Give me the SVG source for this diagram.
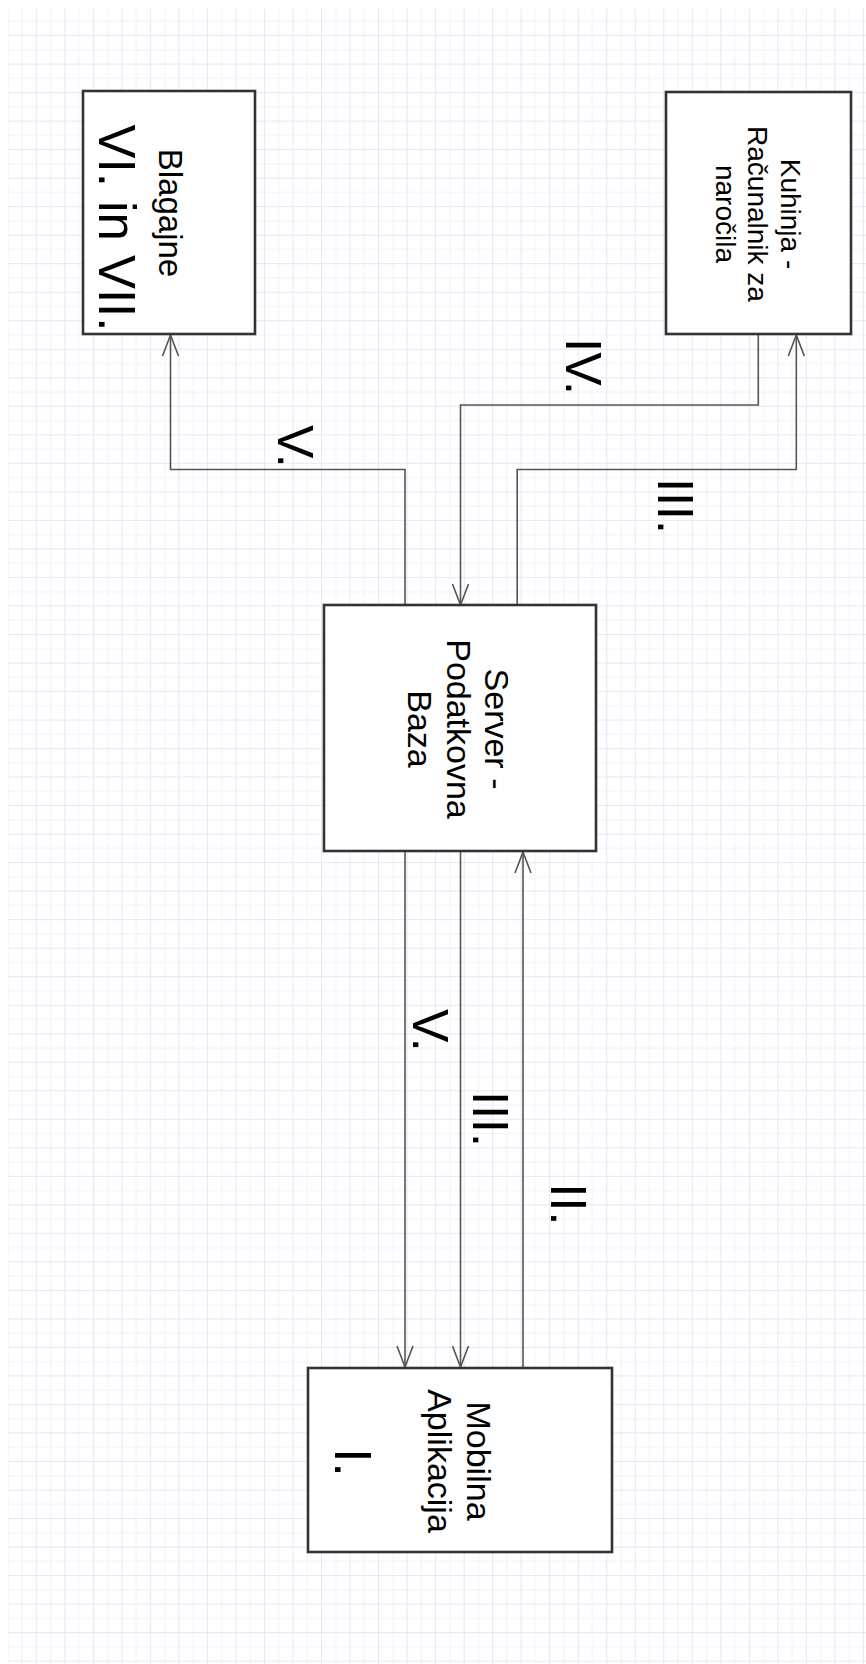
<svg xmlns="http://www.w3.org/2000/svg" width="866" height="1664" viewBox="0 0 866 1664">
<style>
.box{fill:#ffffff;stroke:#333333;stroke-width:2.6}
.con{fill:none;stroke:#555555;stroke-width:1.6}
.t{font-family:"Liberation Sans",Arial,sans-serif;fill:#000000}
.m{text-anchor:middle}
.lbl{font-size:50px}
</style>
<defs>
<pattern id="grid" patternUnits="userSpaceOnUse" x="7.3" y="6.5" width="28.52" height="28.52">
<rect x="0" y="0" width="28.52" height="28.52" fill="#ffffff"/>
<rect x="14.26" y="0" width="1" height="28.52" fill="#f1f1fd"/>
<rect x="0" y="14.26" width="28.52" height="1" fill="#f1f1fd"/>
<rect x="0" y="0" width="1" height="28.52" fill="#e6e6fa"/>
<rect x="0" y="0" width="28.52" height="1" fill="#e6e6fa"/>
</pattern>
<marker id="arr" markerUnits="userSpaceOnUse" markerWidth="30" markerHeight="30" viewBox="-25 -12 30 24" refX="0" refY="0" orient="auto">
<path d="M-21,-8 L0,0 L-21,8" fill="none" stroke="#555555" stroke-width="1.6"/>
</marker>
</defs>
<rect x="0" y="0" width="866" height="1664" fill="#ffffff"/>
<rect x="8" y="9" width="858" height="1655" fill="url(#grid)"/>

<g id="connectors">
<polyline class="con" points="405,605 405,469.5 170.5,469.5 170.5,335" marker-end="url(#arr)"/>
<polyline class="con" points="758.3,334 758.3,405 460.5,405 460.5,605" marker-end="url(#arr)"/>
<polyline class="con" points="517.2,605 517.2,469.5 796.3,469.5 796.3,335" marker-end="url(#arr)"/>
<line class="con" x1="405" y1="851" x2="405" y2="1367" marker-end="url(#arr)"/>
<line class="con" x1="460.5" y1="851" x2="460.5" y2="1367" marker-end="url(#arr)"/>
<line class="con" x1="523" y1="1368" x2="523" y2="852" marker-end="url(#arr)"/>
<text class="t lbl" transform="translate(278,425) rotate(90)">V.</text>
<text class="t lbl" transform="translate(566.3,338.3) rotate(90)">IV.</text>
<text class="t lbl" transform="translate(658,478.3) rotate(90)">III.</text>
<text class="t lbl" transform="translate(413,1009) rotate(90)">V.</text>
<text class="t lbl" transform="translate(472.7,1091.3) rotate(90)">III.</text>
<text class="t lbl" transform="translate(550.5,1183.6) rotate(90)">II.</text>
</g>

<g id="blagajne">
<rect class="box" x="83" y="91" width="172" height="243"/>
<text class="t m" font-size="33" transform="translate(159.3,213) rotate(90)">Blagajne</text>
<text class="t m" font-size="51" transform="translate(99.3,228) rotate(90)">VI. in VII.</text>
</g>

<g id="kuhinja">
<rect class="box" x="666" y="92" width="185" height="242"/>
<text class="t m" font-size="28" transform="translate(780.5,214) rotate(90)">Kuhinja -</text>
<text class="t m" font-size="28" transform="translate(748,214) rotate(90)">Računalnik za</text>
<text class="t m" font-size="28" transform="translate(715.5,214) rotate(90)">naročila</text>
</g>

<g id="server">
<rect class="box" x="324" y="605" width="272" height="246"/>
<text class="t m" font-size="34" transform="translate(485,729) rotate(90)">Server -</text>
<text class="t m" font-size="34" transform="translate(446.7,729) rotate(90)">Podatkovna</text>
<text class="t m" font-size="34" transform="translate(408.3,729) rotate(90)">Baza</text>
</g>

<g id="mobilna">
<rect class="box" x="308" y="1368" width="304" height="184"/>
<text class="t m" font-size="34" transform="translate(466.7,1461) rotate(90)">Mobilna</text>
<text class="t m" font-size="34" transform="translate(428.3,1461) rotate(90)">Aplikacija</text>
<text class="t m" font-size="51" transform="translate(335,1462.5) rotate(90)">I.</text>
</g>
</svg>
